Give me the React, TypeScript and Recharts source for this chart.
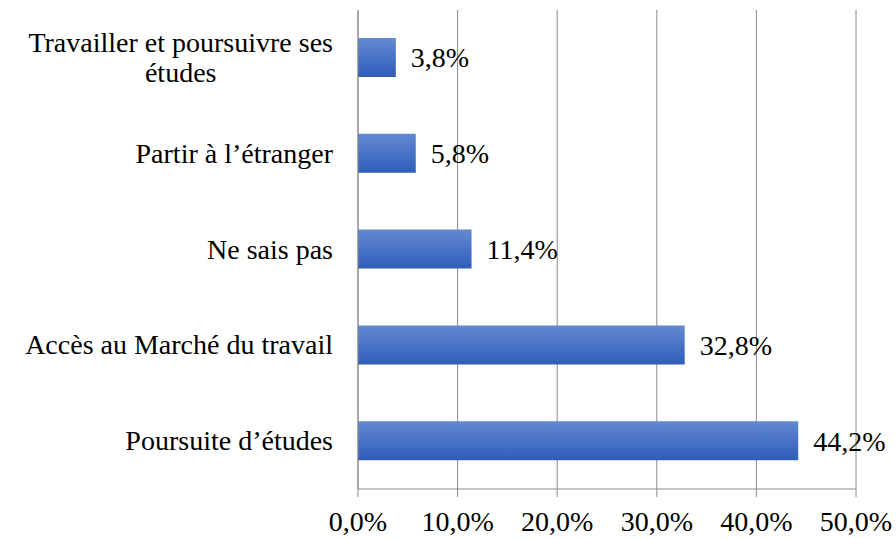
import { BarChart, Bar, XAxis, YAxis, CartesianGrid, LabelList } from 'recharts';

const CATEGORIES = [
    'Travailler et poursuivre ses études',
    'Partir à l’étranger',
    'Ne sais pas',
    'Accès au Marché du travail',
    'Poursuite d’études',
];
const VALUES = [3.8, 5.8, 11.4, 32.8, 44.2];
const X_TICKS = [0, 10, 20, 30, 40, 50];
const BOUNDS = [0, 1, 2, 3, 4, 5];

const data = CATEGORIES.map((name, i) => ({ name, value: VALUES[i] }));

const FONT = 'Liberation Serif, Tinos, DejaVu Serif, serif';
const FONT_SIZE = 28;
const GREY = '#8c8c8c';

const pct = (v: number) => v.toFixed(1).replace('.', ',') + '%';

let ctx: CanvasRenderingContext2D | null = null;
const measure = (s: string) => {
    if (!ctx) {
        ctx = document.createElement('canvas').getContext('2d');
        if (ctx) ctx.font = `${FONT_SIZE}px ${FONT}`;
    }
    return ctx ? ctx.measureText(s).width : s.length * 12;
};

// split long labels into lines no wider than maxChars
const wrap = (text: string, maxChars = 28) => {
    const words = text.split(' ');
    const lines: string[] = [];
    let cur = '';
    for (const w of words) {
        const next = cur ? cur + ' ' + w : w;
        if (next.length > maxChars && cur) {
            lines.push(cur);
            cur = w;
        } else {
            cur = next;
        }
    }
    if (cur) lines.push(cur);
    return lines;
};

function CategoryTick(props: any) {
    const { x, y, payload } = props;
    const lines = wrap(payload.value);
    const widest = Math.max(...lines.map(measure));
    const cx = x - widest / 2;
    const lh = 30;
    return (
        <g>
            {lines.map((line, i) => (
                <text
                    key={i}
                    x={lines.length > 1 ? cx : x}
                    y={y + 9 - ((lines.length - 1) * lh) / 2 + i * lh}
                    textAnchor={lines.length > 1 ? 'middle' : 'end'}
                    fill="#000"
                    style={{ fontFamily: FONT, fontSize: FONT_SIZE }}
                >
                    {line}
                </text>
            ))}
        </g>
    );
}

export default function App() {
    return (
        <div style={{ fontFamily: FONT }}>
            <style>{`body{margin:0;background:#fff} svg text{font-family:${FONT}}`}</style>
            <BarChart
                width={896}
                height={539}
                data={data}
                layout="vertical"
                margin={{ top: 10, right: 40, bottom: 0, left: 0 }}
            >
                <defs>
                    <linearGradient id="barFill" x1="0" y1="0" x2="0" y2="1">
                        <stop offset="0%" stopColor="#6489d2" />
                        <stop offset="50%" stopColor="#4873c7" />
                        <stop offset="100%" stopColor="#2e5cb7" />
                    </linearGradient>
                </defs>
                <CartesianGrid horizontal={false} stroke={GREY} />
                <XAxis
                    type="number"
                    domain={[0, 50]}
                    ticks={X_TICKS}
                    tickFormatter={pct}
                    height={50}
                    tickSize={8}
                    tickMargin={14}
                    stroke={GREY}
                    tick={{ fill: '#000', fontFamily: FONT, fontSize: FONT_SIZE }}
                />
                <YAxis
                    yAxisId="bounds"
                    type="number"
                    domain={[0, 5]}
                    ticks={BOUNDS}
                    width={0}
                    tickSize={8}
                    axisLine={false}
                    tickLine={{ stroke: GREY }}
                    tickFormatter={() => ''}
                />
                <YAxis
                    yAxisId="cat"
                    type="category"
                    dataKey="name"
                    width={358}
                    tickLine={false}
                    tickSize={0}
                    tickMargin={25}
                    axisLine={{ stroke: GREY }}
                    tick={<CategoryTick />}
                    interval={0}
                />
                <Bar yAxisId="cat" dataKey="value" fill="url(#barFill)" barSize={39} isAnimationActive={false}>
                    <LabelList
                        dataKey="value"
                        position="right"
                        offset={15}
                        formatter={(v: any) => pct(Number(v))}
                        fill="#000"
                        fontFamily={FONT}
                        fontSize={FONT_SIZE}
                    />
                </Bar>
            </BarChart>
        </div>
    );
}
